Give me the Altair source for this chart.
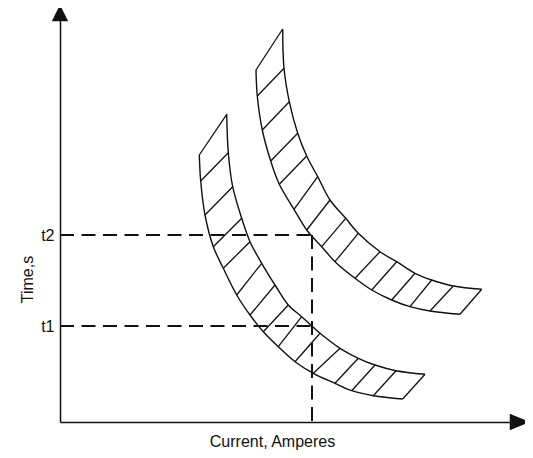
import altair as alt
import pandas as pd

FONT = "Liberation Sans"
INK = "#111111"

# Axis extents (abstract units: current along x, time along y)
current_max = 460
time_max = 409

# Marked operating point
t_labels = ["t1", "t2"]
t_values = [96, 187]
i_mark = 252

# Lower (faster) characteristic band: outer and inner boundary, matched hatch points
low_outer_i = [139.3, 140.7, 145.0, 153.3, 163.3, 176.7, 190.0, 203.3, 218.3, 235.0, 253.3, 275.0, 291.7, 313.3, 342.7]
low_outer_t = [267.0, 241.0, 207.0, 175.3, 153.7, 127.0, 107.0, 90.3, 75.3, 60.3, 48.7, 38.7, 31.3, 26.3, 23.0]
low_inner_i = [166.7, 168.3, 172.7, 181.7, 190.0, 201.7, 215.0, 228.3, 241.7, 260.0, 280.0, 298.3, 315.0, 336.0, 365.0]
low_inner_t = [307.7, 269.3, 235.3, 203.7, 180.3, 158.7, 137.0, 117.0, 105.3, 88.7, 73.7, 63.7, 57.0, 51.3, 47.7]

# Upper (slower) characteristic band
up_outer_i = [196.0, 197.3, 202.3, 210.7, 219.3, 234.0, 246.7, 261.7, 275.0, 295.0, 311.7, 331.7, 350.0, 370.0, 400.0]
up_outer_t = [352.0, 326.0, 292.0, 261.0, 237.7, 212.7, 192.0, 175.3, 160.3, 143.7, 132.0, 122.0, 115.3, 111.0, 107.7]
up_inner_i = [222.7, 224.0, 229.3, 237.7, 246.7, 257.7, 270.0, 285.7, 298.3, 320.0, 336.7, 355.0, 371.7, 393.3, 421.7]
up_inner_t = [393.0, 353.7, 320.3, 288.7, 266.0, 245.3, 222.0, 203.7, 188.7, 170.3, 160.3, 148.7, 142.0, 136.0, 132.7]

bands = {
    "low": (low_outer_i, low_outer_t, low_inner_i, low_inner_t),
    "up": (up_outer_i, up_outer_t, up_inner_i, up_inner_t),
}

curve_rows = []
hatch_rows = []
for name, (oi, ot, ii, it) in bands.items():
    for k in range(len(oi)):
        curve_rows.append({"curve": name + "_outer", "idx": k, "current": oi[k], "time": ot[k]})
        curve_rows.append({"curve": name + "_inner", "idx": k, "current": ii[k], "time": it[k]})
        hatch_rows.append({"band": name, "current": oi[k], "time": ot[k], "current2": ii[k], "time2": it[k]})
curves = pd.DataFrame(curve_rows)
hatches = pd.DataFrame(hatch_rows)

# Dashed guide lines
dash_rows = [{"current": 0, "time": t, "current2": i_mark, "time2": t} for t in t_values]
dash_rows.append({"current": i_mark, "time": max(t_values), "current2": i_mark, "time2": 0})
dashes = pd.DataFrame(dash_rows)

# Axis arrow heads
arrows = pd.DataFrame({
    "current": [current_max, 0],
    "time": [0, time_max],
    "shape": ["M-1,-0.8L1,0L-1,0.8Z", "M-0.8,0.8L0,-0.8L0.8,0.8Z"],
})

x_scale = alt.Scale(domain=[0, current_max], nice=False, zero=False)
y_scale = alt.Scale(domain=[0, time_max], nice=False, zero=False)

label_expr = " : ".join(
    [f"datum.value == {v} ? '{l}'" for v, l in zip(t_values, t_labels)]
) + " : ''"

x_axis = alt.Axis(
    title="Current, Amperes", labels=False, ticks=False, tickSize=0, grid=False,
    domainColor=INK, domainWidth=1.5,
    titleFont=FONT, titleFontSize=16, titleFontWeight="normal", titleColor=INK,
    titleX=212, titleY=24, titleAlign="center", titleBaseline="alphabetic",
)
y_axis = alt.Axis(
    title="Time,s", values=t_values, labelExpr=label_expr, ticks=False, tickSize=0, grid=False,
    domainColor=INK, domainWidth=1.5,
    labelFont=FONT, labelFontSize=16, labelColor=INK, labelPadding=6,
    titleFont=FONT, titleFontSize=16, titleFontWeight="normal", titleColor=INK,
    titleX=-28, titleY=266, titleAngle=270, titleAlign="center", titleBaseline="alphabetic",
)

X = alt.X("current:Q", scale=x_scale, axis=x_axis, title="Current, Amperes")
Y = alt.Y("time:Q", scale=y_scale, axis=y_axis, title="Time,s")

hatch_layer = alt.Chart(hatches).mark_rule(color=INK, strokeWidth=1.3).encode(
    x=X, y=Y, x2="current2:Q", y2="time2:Q",
)

curve_layer = alt.Chart(curves).mark_line(
    color=INK, strokeWidth=1.4, interpolate="catmull-rom"
).encode(
    x=X, y=Y, detail="curve:N", order="idx:Q",
)

dash_layer = alt.Chart(dashes).mark_rule(
    color=INK, strokeWidth=2, strokeDash=[14, 7.5]
).encode(
    x=X, y=Y, x2="current2:Q", y2="time2:Q",
)

arrow_layer = alt.Chart(arrows).mark_point(
    filled=True, color=INK, opacity=1, size=420, strokeWidth=0
).encode(
    x=X, y=Y, shape=alt.Shape("shape:N", scale=None),
)

chart = alt.layer(hatch_layer, curve_layer, dash_layer, arrow_layer).properties(
    width=current_max,
    height=time_max,
    autosize="none",
    padding={"left": 52, "top": 5, "right": 5, "bottom": 28},
    background="white",
).configure_view(strokeWidth=0)

chart.save("out.html", embed_options={"renderer": "svg", "actions": False})
